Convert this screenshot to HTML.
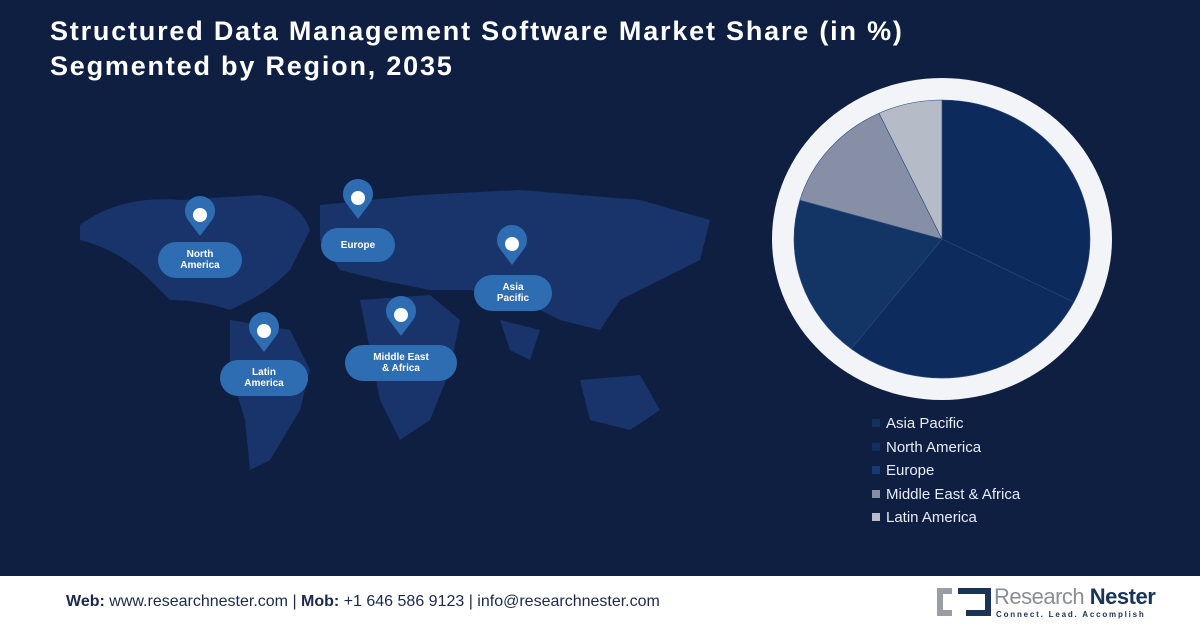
<!DOCTYPE html>
<html><head><meta charset="utf-8"><style>
body{margin:0;width:1200px;height:628px;overflow:hidden;background:#0e1f42;font-family:"Liberation Sans",sans-serif;position:relative}
.title{position:absolute;left:50px;top:14px;color:#fff;font-weight:bold;font-size:27px;line-height:35px;letter-spacing:1.8px}
.footer{position:absolute;left:0;top:576px;width:1200px;height:52px;background:#fff}
.ft{position:absolute;left:66px;top:17px;font-size:16px;color:#1a2a4a}
.leg{position:absolute;left:872px;color:#e8ecf4;font-size:15px}
.leg span{display:inline-block;width:8px;height:8px;margin-right:6px;vertical-align:1px}
.lbl{position:absolute;background:#2f6db3;color:#fff;font-size:10px;font-weight:bold;text-align:center;border-radius:18px;line-height:11px;display:flex;align-items:center;justify-content:center}
</style></head><body>
<div class="title">Structured Data Management Software Market Share (in %)<br>Segmented by Region, 2035</div>
<svg width="1200" height="628" style="position:absolute;left:0;top:0">
<g fill="#1b3670" opacity="0.9">
<path d="M80 225 Q120 195 180 200 L260 195 Q300 200 310 230 L290 270 Q270 290 250 300 L230 310 Q200 300 170 300 L150 280 Q120 250 80 240Z"/>
<path d="M230 320 L290 330 L310 370 L300 410 L270 460 L250 470 L245 420 L230 370Z"/>
<path d="M320 205 L420 195 L520 190 L640 200 L710 220 L700 260 L660 280 L620 300 L600 330 L560 320 L520 300 L470 290 L430 290 L380 280 L340 270 L320 240Z"/>
<path d="M360 300 L430 295 L460 320 L450 370 L430 420 L400 440 L380 400 L370 350Z"/>
<path d="M580 380 L640 375 L660 410 L630 430 L590 420Z"/>
<path d="M500 320 L540 330 L530 360 L510 350Z"/>
</g>
<g id="pie">
<ellipse cx="942" cy="239" rx="170" ry="161" fill="#f3f4f7"/>
</g>
<g fill="#2f6db3" stroke="none">
<g transform="translate(200,218)"><path d="M0 18 L-12 2 A15 15 0 1 1 12 2Z"/><circle cy="-3" r="7" fill="#fff"/></g>
<g transform="translate(358,201)"><path d="M0 18 L-12 2 A15 15 0 1 1 12 2Z"/><circle cy="-3" r="7" fill="#fff"/></g>
<g transform="translate(512,247)"><path d="M0 18 L-12 2 A15 15 0 1 1 12 2Z"/><circle cy="-3" r="7" fill="#fff"/></g>
<g transform="translate(264,334)"><path d="M0 18 L-12 2 A15 15 0 1 1 12 2Z"/><circle cy="-3" r="7" fill="#fff"/></g>
<g transform="translate(401,318)"><path d="M0 18 L-12 2 A15 15 0 1 1 12 2Z"/><circle cy="-3" r="7" fill="#fff"/></g>
</g>
</svg>
<div class="lbl" style="left:158px;top:242px;width:84px;height:36px">North<br>America</div>
<div class="lbl" style="left:321px;top:228px;width:74px;height:34px">Europe</div>
<div class="lbl" style="left:474px;top:275px;width:78px;height:36px">Asia<br>Pacific</div>
<div class="lbl" style="left:220px;top:360px;width:88px;height:36px">Latin<br>America</div>
<div class="lbl" style="left:345px;top:345px;width:112px;height:36px">Middle East<br>&amp; Africa</div>
<div id="legend"></div>
<div class="footer">
<div class="ft"><b>Web:</b> www.researchnester.com | <b>Mob:</b> +1 646 586 9123 | info@researchnester.com</div>
<svg style="position:absolute;left:936px;top:12px" width="60" height="30"><path d="M16 3 H4 V25 H16" fill="none" stroke="#9a9da3" stroke-width="6"/><path d="M22 3 H52 V25 H30" fill="none" stroke="#1a3358" stroke-width="6"/></svg>
<div style="position:absolute;left:994px;top:8px;font-size:22px;color:#8a8d93;letter-spacing:-0.5px">Research <b style="color:#1a3358">Nester</b></div>
<div style="position:absolute;left:996px;top:34px;font-size:8px;letter-spacing:1.8px;color:#1a3358;font-weight:bold">Connect. Lead. Accomplish</div>
</div>
<script>
const categories=["Asia Pacific","North America","Europe","Middle East & Africa","Latin America"];
const shares=[32.5,28,19,13.5,7];
const colors=["#0c2a5c","#0e2b5e","#123566","#868fa6","#b6bbc8"];
const legColors=["#13305f","#142f5e","#173a74","#868fa6","#b6bbc8"];
const NS="http://www.w3.org/2000/svg";
const pie=document.getElementById('pie');
const cx=942,cy=239,rx=148,ry=139;
const total=shares.reduce((a,b)=>a+b,0);
let a0=0;
shares.forEach((v,i)=>{
  const a1=a0+v/total*2*Math.PI;
  const x0=cx+rx*Math.sin(a0),y0=cy-ry*Math.cos(a0),x1=cx+rx*Math.sin(a1),y1=cy-ry*Math.cos(a1);
  const p=document.createElementNS(NS,'path');
  p.setAttribute('d',`M${cx} ${cy} L${x0} ${y0} A${rx} ${ry} 0 ${a1-a0>Math.PI?1:0} 1 ${x1} ${y1}Z`);
  p.setAttribute('fill',colors[i]);
  p.setAttribute('stroke','#2a4a80');p.setAttribute('stroke-width','0.6');
  
  
  pie.appendChild(p);a0=a1;
});
const lg=document.getElementById('legend');
categories.forEach((c,i)=>{
  const d=document.createElement('div');d.className='leg';d.style.top=(415+i*23.5)+'px';
  d.innerHTML=`<span style="background:${legColors[i]}"></span>${c.replace('&','&amp;')}`;
  
  
  lg.appendChild(d);
});
</script>
</body></html>
